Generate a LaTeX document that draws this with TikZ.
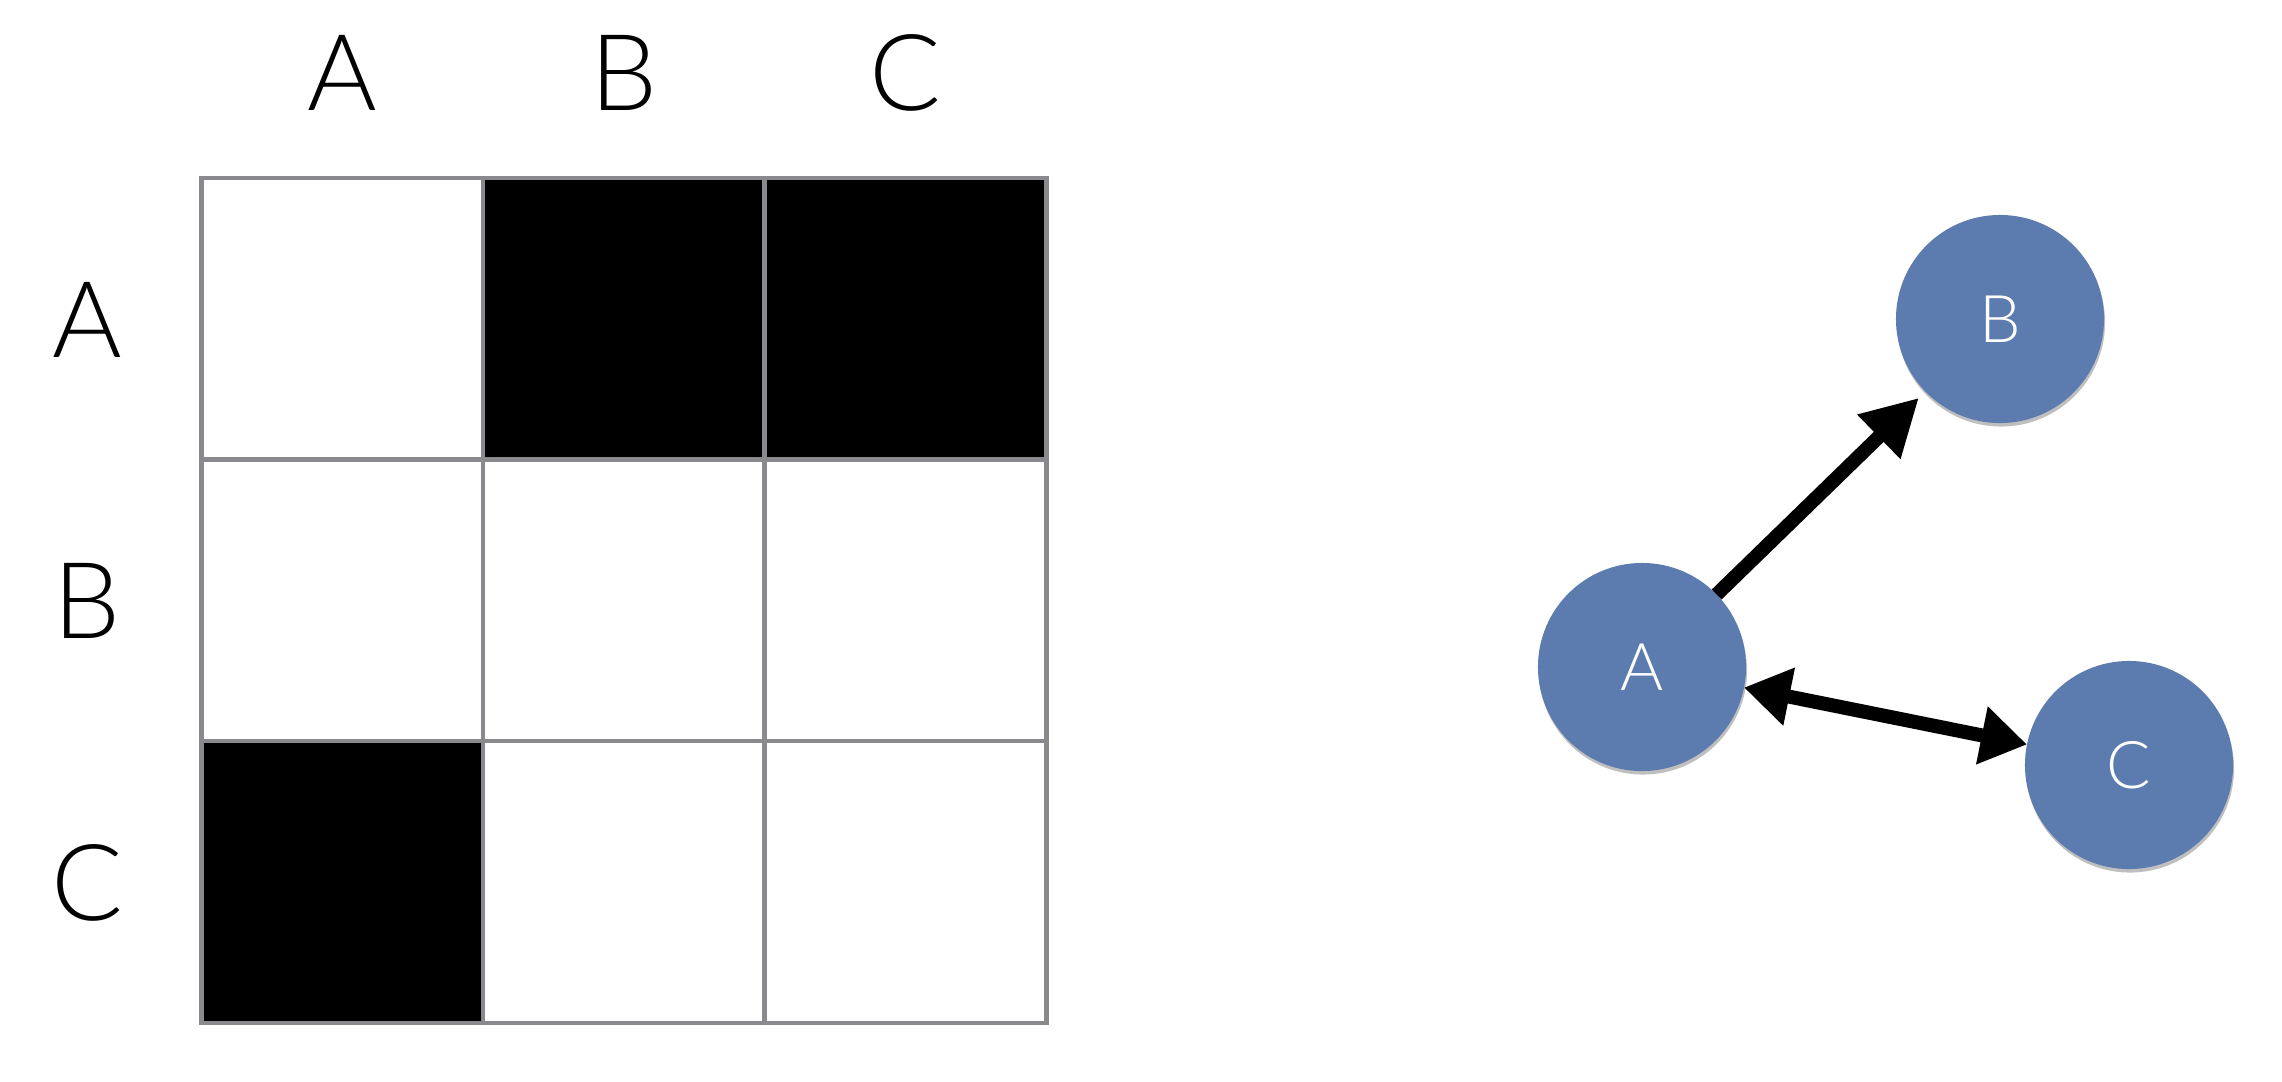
\documentclass[tikz,border=0pt]{standalone}
\usepackage{fontspec}
\setmainfont{Lato Light}
\usetikzlibrary{arrows.meta,shadows}
\definecolor{nodeblue}{RGB}{92,124,175}
\definecolor{gridgray}{RGB}{138,138,142}
\begin{document}
\begin{tikzpicture}[x=0.01cm,y=-0.01cm,
  cell/.style={draw=gridgray,line width=0.045cm,minimum width=2.815cm,minimum height=2.815cm,inner sep=0pt,outer sep=0pt},
  fullcell/.style={cell,fill=black},
  emptycell/.style={cell,fill=white},
  lab/.style={font=\fontsize{30.2pt}{36pt}\selectfont,anchor=base,inner sep=0pt},
  vert/.style={circle,fill=nodeblue,minimum size=2.08cm,inner sep=0pt,outer sep=0pt,text=white,
    font=\fontsize{18.7pt}{22pt}\selectfont,
    drop shadow={shadow xshift=0.01cm,shadow yshift=-0.035cm,opacity=0.25,fill=black}},
  link/.style={line width=0.14cm}
]
\fill[white] (0,0) rectangle (2282,1081);
\useasboundingbox (0,0) rectangle (2282,1081);

% matrix cells
\node[emptycell] (cAA) at (342.45,319.05) {};
\node[fullcell]  (cAB) at (623.95,319.05) {};
\node[fullcell]  (cAC) at (905.45,319.05) {};
\node[emptycell] (cBA) at (342.45,600.55) {};
\node[emptycell] (cBB) at (623.95,600.55) {};
\node[emptycell] (cBC) at (905.45,600.55) {};
\node[fullcell]  (cCA) at (342.45,882.05) {};
\node[emptycell] (cCB) at (623.95,882.05) {};
\node[emptycell] (cCC) at (905.45,882.05) {};

% column labels
\node[lab] (colA) at (342.45,110.7) {A};
\node[lab] (colB) at (623.95,110.7) {B};
\node[lab] (colC) at (905.45,110.7) {C};
% row labels
\node[lab] (rowA) at (87,357) {A};
\node[lab] (rowB) at (87,638.5) {B};
\node[lab] (rowC) at (87,920) {C};

% graph
\node[vert] (A) at (1642,667) {A};
\node[vert] (B) at (2000,319) {B};
\node[vert] (C) at (2129,765) {C};

\draw[link,-{Triangle[length=0.56cm,width=0.58cm]},shorten >=0.09cm] (A) -- (B);
\draw[link,{Triangle[length=0.46cm,width=0.56cm]}-{Triangle[length=0.46cm,width=0.56cm]}] (A) -- (C);
\end{tikzpicture}
\end{document}
